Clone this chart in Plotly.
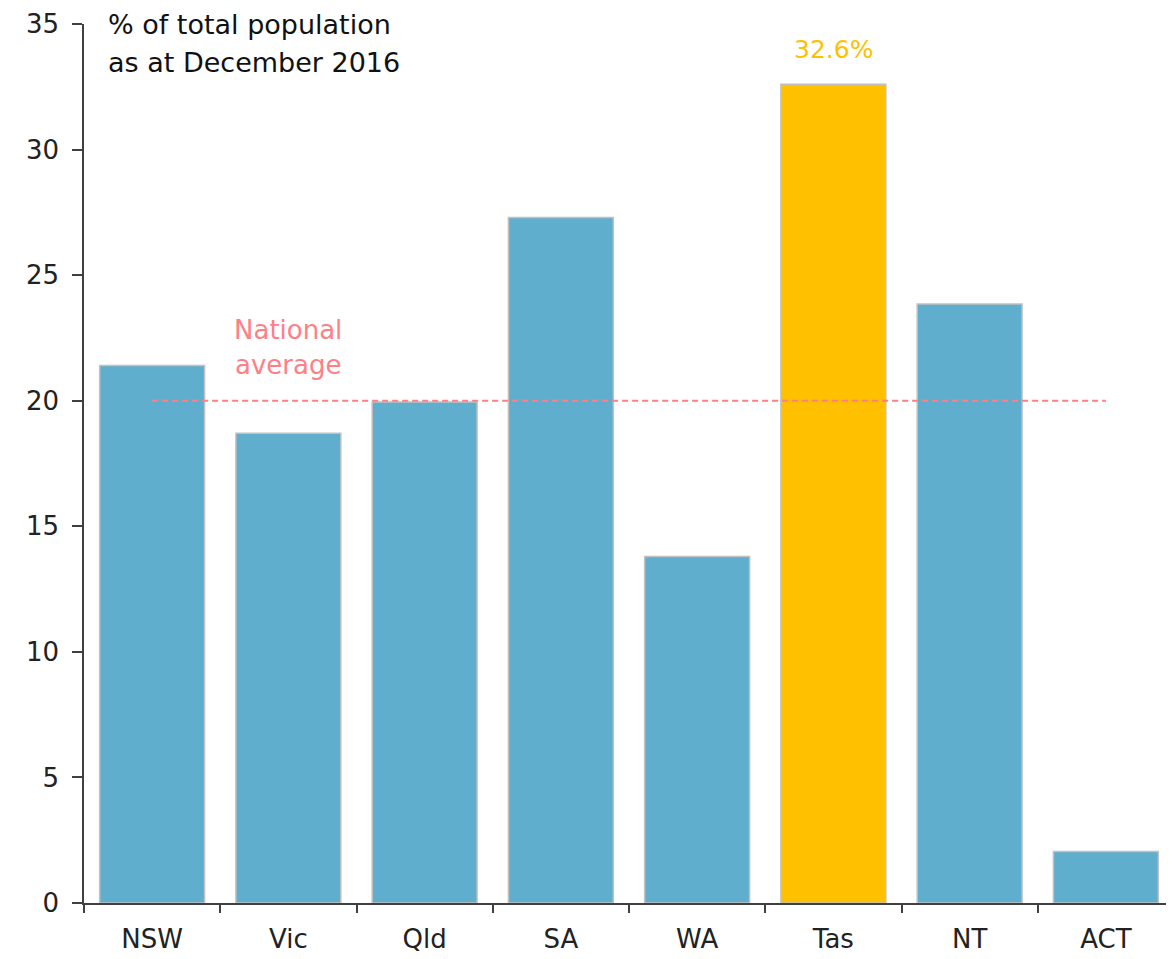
import plotly.graph_objects as go

categories = ["NSW", "Vic", "Qld", "SA", "WA", "Tas", "NT", "ACT"]
values = [21.4, 18.7, 19.95, 27.3, 13.8, 32.6, 23.85, 2.05]
national_average = 20.0
highlight = "Tas"
y_ticks = [0, 5, 10, 15, 20, 25, 30, 35]
title_lines = ["% of total population", "as at December 2016"]
avg_label_lines = ["National", "average"]

blue = "#60AECD"
gold = "#FFC000"
avg_color = "#FF7F86"
font_family = "DejaVu Sans, sans-serif"

colors = [gold if c == highlight else blue for c in categories]

fig = go.Figure()
fig.add_trace(go.Bar(
    x=categories, y=values,
    marker=dict(color=colors, line=dict(color="#C0C0C0", width=1.5)),
    showlegend=False, hoverinfo="x+y",
))
fig.add_trace(go.Scatter(
    x=[categories[0], categories[-1]], y=[national_average, national_average],
    mode="lines", line=dict(color=avg_color, width=2, dash="6px,4px"),
    showlegend=False, hoverinfo="skip",
))

hi = categories.index(highlight)
fig.add_annotation(x=highlight, y=values[hi], text=f"{values[hi]}%", showarrow=False,
                   yanchor="middle", yshift=35, font=dict(color=gold, size=25, family=font_family))
for i, line in enumerate(avg_label_lines):
    fig.add_annotation(x=categories[1], y=national_average, text=line, showarrow=False,
                       yanchor="middle", yshift=71 - 35 * i,
                       font=dict(color=avg_color, size=26, family=font_family))
for i, line in enumerate(title_lines):
    fig.add_annotation(xref="paper", yref="paper", x=0.0202, y=1.0, xanchor="left", yanchor="middle",
                       text=line, showarrow=False, yshift=-38 * i,
                       font=dict(color="#111111", size=27, family=font_family))

fig.update_layout(
    width=1166, height=951,
    margin=dict(l=76, r=0, t=16, b=56, autoexpand=False),
    plot_bgcolor="white", paper_bgcolor="white",
    bargap=0.23,
    font=dict(family=font_family, size=26, color="#222222"),
)
fig.update_xaxes(
    showline=True, linecolor="#404040", linewidth=1.5,
    ticks="outside", ticklen=8, tickcolor="#404040", tickwidth=1.5,
    tickson="boundaries", showgrid=False, automargin=False,
    tickfont=dict(size=26), ticklabelstandoff=12,
)
fig.update_yaxes(
    range=[0, 35], tickvals=y_ticks, showline=True, linecolor="#404040", linewidth=1.5,
    ticks="outside", ticklen=10, tickcolor="#404040", tickwidth=1.5,
    showgrid=False, zeroline=False, automargin=False, tickfont=dict(size=26),
    ticklabelstandoff=8,
)

fig.write_html("out.html")
